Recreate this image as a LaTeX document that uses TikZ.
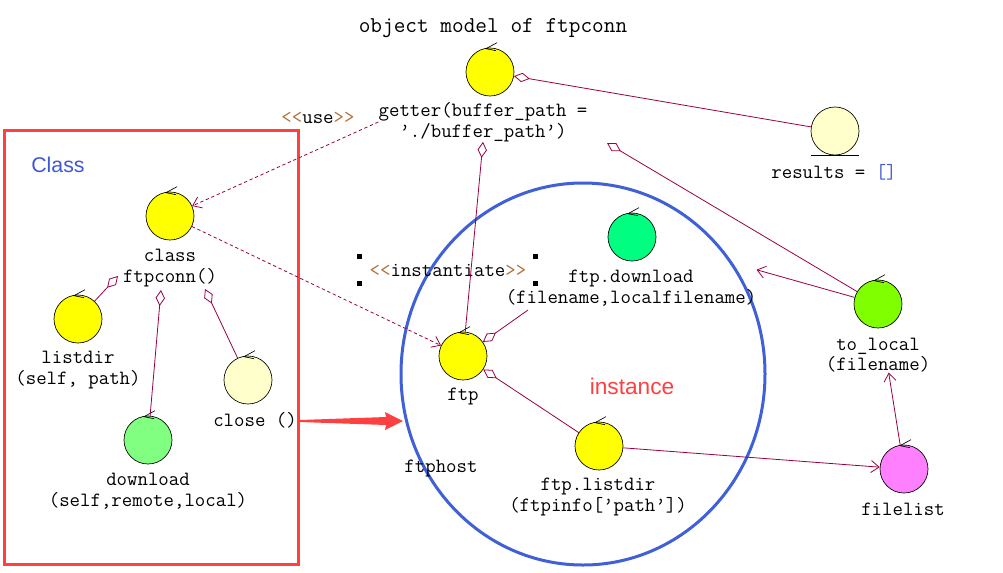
\documentclass[tikz,border=0pt]{standalone}
\usepackage{fontspec}
\usepackage{xcolor}
\usepackage{tikz}
\usetikzlibrary{arrows.meta}
\setsansfont{Liberation Sans}
\newcommand*{\umlfont}{\ttfamily}
\definecolor{link}{RGB}{153,0,68}
\definecolor{objyellow}{RGB}{255,255,0}
\definecolor{objcream}{RGB}{255,255,204}
\definecolor{objgreen}{RGB}{128,255,128}
\definecolor{objspring}{RGB}{0,255,128}
\definecolor{objlime}{RGB}{128,255,0}
\definecolor{objpink}{RGB}{255,128,255}
\definecolor{boxred}{RGB}{255,64,64}
\definecolor{ringblue}{RGB}{64,96,216}
\definecolor{classblue}{RGB}{64,88,216}
\definecolor{guil}{RGB}{176,112,56}
\newcommand*{\guil}[1]{\textcolor{guil}{#1}}

\begin{document}
\begin{tikzpicture}[x=0.75pt,y=-0.75pt,
    obj/.style={circle,draw=black,line width=0.5pt,minimum size=36pt,inner sep=0pt},
    lbl/.style={font=\umlfont\fontsize{15.2}{15.5}\selectfont,align=center,inner sep=0pt},
    agg/.style={draw=link,line width=0.6pt,{Diamond[open,length=12pt,width=7pt]}-},
    dep/.style={draw=link,line width=0.6pt,dash pattern=on 2.5pt off 2pt,-{Straight Barb[length=6pt,width=9pt]}},
    nav/.style={draw=link,line width=0.6pt,-{Straight Barb[length=6pt,width=9pt]}}]
    \useasboundingbox (0,0) rectangle (1003,572);

    \draw [boxred,line width=2.25pt] (4,130) rectangle (298,564);
    \draw [ringblue,line width=2.25pt] (583,374) ellipse [x radius=182,y radius=191];
    \fill [boxred] (300,420) -- (386,417) -- (385,412) -- (403,421) -- (385,430) -- (386,425) -- (300,422) -- cycle;

    \node [font=\umlfont\fontsize{17}{18}\selectfont] (title) at (493,28) {object model of ftpconn};
    \node [font=\sffamily\fontsize{16}{18}\selectfont,text=classblue] (classtxt) at (58,165) {Class};
    \node [font=\sffamily\fontsize{17}{20}\selectfont,text=boxred] (insttxt) at (632,386) {instance};

    \foreach \name/\x/\y/\col in {getter/490/72/objyellow, results/835/131/objcream,
        ftpconn/170/216/objyellow, listdir/78/319/objyellow, close/248/380/objcream,
        download/148/440/objgreen, ftp/463/356/objyellow, ftpdl/632/237/objspring,
        ftpls/599/446/objyellow, tolocal/878/304/objlime, filelist/904/469/objpink} {
      \node [obj,fill=\col] (\name) at (\x,\y) {};
    }
    \foreach \name in {getter,ftpconn,listdir,close,download,ftp,ftpdl,ftpls,tolocal,filelist} {
      \draw [line width=0.5pt] (\name.north) ++(7,-5) -- ++(-11,6) -- ++(10,2);
    }
    \draw [line width=0.5pt] ([xshift=-18pt]results.south) -- ([xshift=18pt]results.south);

    \node [lbl] (getterlbl) at (483,122) {getter(buffer\_path =\\’./buffer\_path’)};
    \node [lbl] (resultslbl) at (834,172) {results = \textcolor{classblue}{[]}};
    \node [lbl] (ftpconnlbl) at (170,268) {class\\ftpconn()};
    \node [lbl] (listdirlbl) at (78,370) {listdir\\(self, path)};
    \node [lbl] (closelbl) at (255,420) {close ()};
    \node [lbl] (downloadlbl) at (148,491) {download\\(self,remote,local)};
    \node [lbl] (ftplbl) at (463,396) {ftp};
    \node [lbl] (ftpdllbl) at (631,288) {ftp.download\\(filename,localfilename)};
    \node [lbl] (ftplslbl) at (598,497) {ftp.listdir\\(ftpinfo[’path’])};
    \node [lbl] (tolocallbl) at (878,355) {to\_local\\(filename)};
    \node [lbl] (filelistlbl) at (903,509) {filelist};
    \node [lbl] (hostlbl) at (441,468) {ftphost};
    \node [lbl] (uselbl) at (318,118) {\guil{<\kern0pt<}use\guil{>\kern0pt>}};
    \node [lbl] (instlbl) at (448,270) {\guil{<\kern0pt<}instantiate\guil{>\kern0pt>}};

    \foreach \x in {359,535} {
      \foreach \y in {256,283} {
        \fill (\x-2.5,\y-2.5) rectangle ++(5,5);
      }
    }

    \coordinate (gright) at (607,143);
    \coordinate (dlleft) at (528,310);
    \coordinate (clsleft) at (118,276);
    \coordinate (clsbot) at (161,290);
    \coordinate (clsright) at (205,289);

    \draw [agg] (getter) -- (results);
    \draw [dep] (getterlbl.west) -- (ftpconn);
    \draw [dep] (ftpconn) -- (ftp);
    \draw [agg] (getterlbl.south) -- (ftp);
    \draw [agg] (gright) -- (tolocal);
    \draw [nav] (tolocal) -- (ftpdllbl.north east);
    \draw [agg] (ftp) -- (dlleft);
    \draw [agg] (ftp) -- (ftpls);
    \draw [nav] (ftpls) -- (filelist);
    \draw [nav] (filelist) -- ([xshift=8pt]tolocallbl.south);
    \draw [agg] (clsleft) -- (listdir);
    \draw [agg] (clsbot) -- (download);
    \draw [agg] (clsright) -- (close);
  \end{tikzpicture}
\end{document}
